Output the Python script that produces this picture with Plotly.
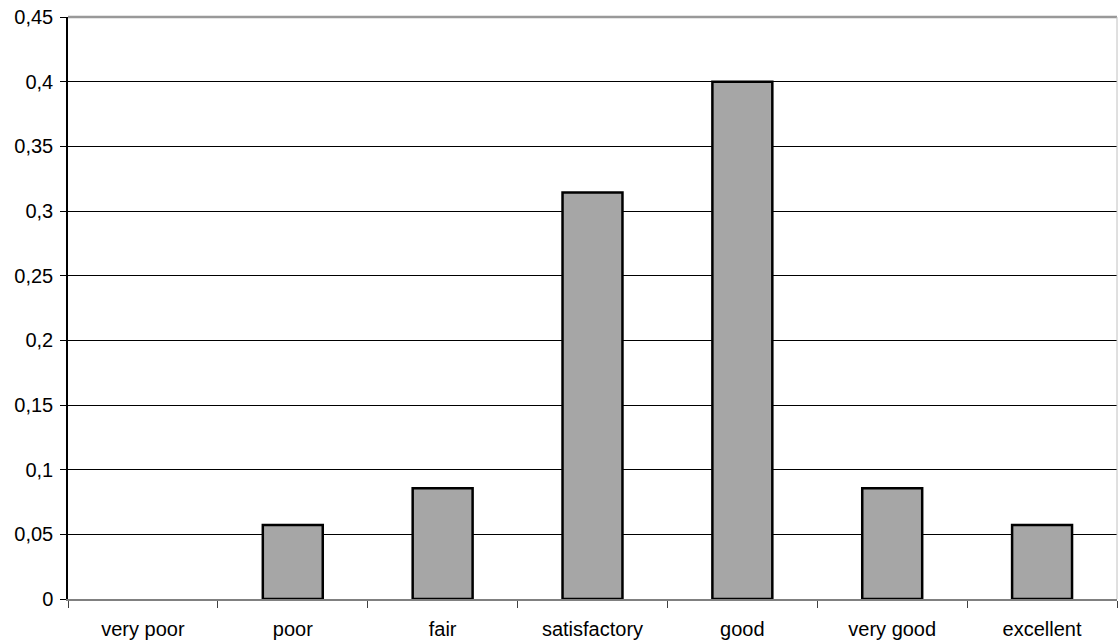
import plotly.graph_objects as go

categories = ["very poor", "poor", "fair", "satisfactory", "good", "very good", "excellent"]
values = [0, 2/35, 3/35, 11/35, 14/35, 3/35, 2/35]
y_ticks = [0, 0.05, 0.1, 0.15, 0.2, 0.25, 0.3, 0.35, 0.4, 0.45]

outline_widths = [2.5 if v > 0 else 0 for v in values]

fig = go.Figure(go.Bar(
    x=categories, y=values,
    marker=dict(color="#A6A6A6", line=dict(color="black", width=outline_widths)),
))

fig.update_layout(
    width=1118, height=643,
    margin=dict(l=68, r=1, t=17, b=44),
    plot_bgcolor="white", paper_bgcolor="white",
    separators=", ",
    bargap=0.6,
    showlegend=False,
    font=dict(family="Liberation Sans, Arial, sans-serif", size=20, color="black"),
    xaxis=dict(
        showline=True, linecolor="#808080", linewidth=2,
        ticks="outside", tickson="boundaries", ticklen=7, tickcolor="#404040", tickwidth=1,
        showgrid=False, ticklabelstandoff=11, automargin=False,
    ),
    yaxis=dict(
        range=[0, 0.45], tickvals=y_ticks,
        showline=True, linecolor="black", linewidth=1.5,
        ticks="outside", ticklen=6, tickcolor="black", tickwidth=1,
        showgrid=True, gridcolor="black", gridwidth=1,
        zeroline=False, ticklabelstandoff=3, automargin=False,
    ),
    shapes=[
        dict(type="line", xref="paper", yref="paper", x0=0, x1=1, y0=1, y1=1,
             line=dict(color="#999999", width=2.5)),
        dict(type="line", xref="paper", yref="paper", x0=1, x1=1, y0=0, y1=1,
             line=dict(color="#C0C0C0", width=1)),
    ],
)

fig.write_html(
    "out.html",
    config={"displayModeBar": False},
    post_script="document.body.style.margin='0';document.body.style.overflow='hidden';",
)
